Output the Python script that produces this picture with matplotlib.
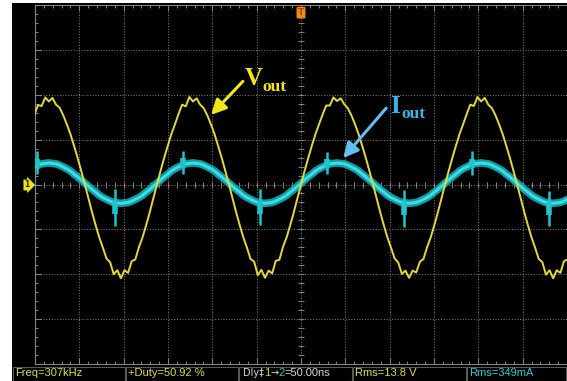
import numpy as np
import matplotlib
matplotlib.use("Agg")
import matplotlib.pyplot as plt
from matplotlib.patches import Rectangle

# ---------------- data (read from the scope screen) ----------------
# sample step = 1/40 of the 307 kHz period (~0.08125 us); 1 us/div, trigger at t = 0
sample_step_us = 0.08125
sample_index_start = -74

vout_V = [
    # k = -74 .. -41
    15.6, 17.7, 17.5, 19.4, 18.5, 19.3, 17.8, 17.1, 15.4, 13.4, 11.2, 8.6, 5.9, 3.0,
    0.0, -3.1, -6.2, -9.1, -11.8, -14.1, -16.5, -17.3, -20.0, -19.1, -20.9, -19.1,
    -19.7, -17.1, -16.7, -14.0, -11.8, -9.1, -6.2, -3.1,
    # k = -40 .. -1
    0.0, 3.0, 5.9, 8.6, 11.2, 13.4, 15.7, 17.8, 17.4, 19.5, 18.5, 19.2, 17.8, 17.0,
    15.4, 13.4, 11.2, 8.6, 5.9, 3.0, 0.0, -3.1, -6.2, -9.1, -11.8, -14.1, -16.6,
    -17.2, -20.2, -19.0, -20.8, -19.2, -19.8, -17.0, -16.8, -13.9, -11.8, -9.1,
    -6.2, -3.1,
    # k = 0 .. 39
    0.0, 3.0, 5.9, 8.6, 11.2, 13.4, 15.6, 17.6, 17.6, 19.4, 18.6, 19.2, 17.9, 17.0,
    15.4, 13.4, 11.2, 8.6, 5.9, 3.0, 0.0, -3.1, -6.2, -9.1, -11.8, -14.1, -16.5,
    -17.4, -19.9, -19.2, -20.8, -19.2, -19.6, -17.2, -16.6, -14.0, -11.8, -9.1,
    -6.2, -3.1,
    # k = 40 .. 74
    0.0, 3.0, 5.9, 8.6, 11.2, 13.4, 15.7, 17.8, 17.5, 19.5, 18.5, 19.3, 17.8, 17.0,
    15.4, 13.4, 11.2, 8.6, 5.9, 3.0, 0.0, -3.1, -6.2, -9.1, -11.8, -14.1, -16.6,
    -17.3, -20.1, -19.1, -20.9, -19.1, -19.7, -17.1, -16.7,
]

iout_A = [
    # k = -74 .. -41
    0.39, 0.43, 0.46, 0.47, 0.48, 0.47, 0.46, 0.43, 0.39, 0.35, 0.30, 0.23, 0.17,
    0.10, 0.03, -0.04, -0.11, -0.17, -0.24, -0.29, -0.33, -0.37, -0.40, -0.41,
    -0.42, -0.41, -0.40, -0.37, -0.33, -0.29, -0.24, -0.17, -0.11, -0.04,
    # k = -40 .. -1
    0.03, 0.10, 0.17, 0.23, 0.30, 0.35, 0.39, 0.43, 0.46, 0.47, 0.48, 0.47, 0.46,
    0.43, 0.39, 0.35, 0.30, 0.23, 0.17, 0.10, 0.03, -0.04, -0.11, -0.17, -0.24,
    -0.29, -0.33, -0.37, -0.40, -0.41, -0.42, -0.41, -0.40, -0.37, -0.33, -0.29,
    -0.24, -0.17, -0.11, -0.04,
    # k = 0 .. 39
    0.03, 0.10, 0.17, 0.23, 0.30, 0.35, 0.39, 0.43, 0.46, 0.47, 0.48, 0.47, 0.46,
    0.43, 0.39, 0.35, 0.30, 0.23, 0.17, 0.10, 0.03, -0.04, -0.11, -0.17, -0.24,
    -0.29, -0.33, -0.37, -0.40, -0.41, -0.42, -0.41, -0.40, -0.37, -0.33, -0.29,
    -0.24, -0.17, -0.11, -0.04,
    # k = 40 .. 74
    0.03, 0.10, 0.17, 0.23, 0.30, 0.35, 0.39, 0.43, 0.46, 0.47, 0.48, 0.47, 0.46,
    0.43, 0.39, 0.35, 0.30, 0.23, 0.17, 0.10, 0.03, -0.04, -0.11, -0.17, -0.24,
    -0.29, -0.33, -0.37, -0.40, -0.41, -0.42, -0.41, -0.40, -0.37, -0.33,
]

# switching spikes on the current trace
spike_t_us = [-5.96, -4.20, -2.66, -0.92, 0.59, 2.32, 3.86, 5.59]
spike_top_A = [0.74, -0.10, 0.75, -0.10, 0.73, -0.12, 0.74, -0.15]
spike_bottom_A = [0.23, -0.93, 0.23, -0.91, 0.23, -0.95, 0.22, -0.93]

status_labels = ["Freq=307kHz", "+Duty=50.92 %", None, "Rms=13.8 V", "Rms=349mA"]
dly_parts = ["Dly\u2021", "1", "\u2192", "2", "=50.00ns"]

# ---------------- figure ----------------
W, H = 567, 381
fig = plt.figure(figsize=(W / 100, H / 100), dpi=100, facecolor="white")

# black screen area
bg = Rectangle((12 / W, 0), 1 - 12 / W, 1 - 3 / H, transform=fig.transFigure,
               facecolor="black", edgecolor="none", zorder=-10)
fig.add_artist(bg)

ax = fig.add_axes([35 / W, (H - 364) / H, 1 - 35 / W, (364 - 5) / H], zorder=1)
ax.set_facecolor("black")
ax.set_xlim(-6, 6)
ax.set_ylim(-40, 40)
ax2 = ax.twinx()
ax2.set_ylim(-4, 4)
ax2.axis("off")

grid_col = "#858585"
for s in ["left", "top", "bottom"]:
    ax.spines[s].set_color(grid_col)
    ax.spines[s].set_linewidth(0.8)
ax.spines["right"].set_visible(False)

ax.set_xticks(np.arange(-6, 7, 1))
ax.set_yticks(np.arange(-40, 41, 10))
ax.set_xticks(np.arange(-6, 6.01, 0.2), minor=True)
ax.set_yticks(np.arange(-40, 40.01, 2), minor=True)
ax.tick_params(which="both", direction="in", color=grid_col, labelbottom=False,
               labelleft=False, top=True, right=False, width=0.7)
ax.tick_params(which="major", length=4)
ax.tick_params(which="minor", length=2.5)

for xv in np.arange(-5, 6.5, 1):
    ax.axvline(xv, color=grid_col, lw=0.7, ls=(0, (1, 1.8)), zorder=1)
for yv in np.arange(-30, 31, 10):
    ax.axhline(yv, color=grid_col, lw=0.7, ls=(0, (1, 1.8)), zorder=1)
# tick marks on centre cross
cx = np.arange(-6, 6.01, 0.2)
ax.plot(cx, np.zeros_like(cx), ls="none", marker="|", ms=5, color=grid_col, mew=0.7, zorder=1)
cy = np.arange(-40, 40.01, 2)
ax.plot(np.zeros_like(cy), cy, ls="none", marker="_", ms=5, color=grid_col, mew=0.7, zorder=1)

# traces
t = (np.arange(len(vout_V)) + sample_index_start) * sample_step_us
ax2.plot(t, iout_A, color="#15aab5", lw=5.5, alpha=0.9, solid_capstyle="round", zorder=3)
ax2.plot(t, iout_A, color="#3adfe4", lw=2.2, zorder=4)
ax2.vlines(spike_t_us, spike_bottom_A, spike_top_A, color="#20c4cc", lw=1.8, zorder=4)
mid_lo = [b + (tp - b) * 0.32 for b, tp in zip(spike_bottom_A, spike_top_A)]
mid_hi = [b + (tp - b) * 0.68 for b, tp in zip(spike_bottom_A, spike_top_A)]
ax2.vlines(spike_t_us, mid_lo, mid_hi, color="#20c4cc", lw=4.0, zorder=4)

ax2.plot(t, np.array(vout_V) / 10.0, color="#e2da3a", lw=1.4, zorder=5)

# annotations
serif = ["Liberation Serif", "DejaVu Serif"]
ycol = "#f2e61c"
bcol = "#3ab4e8"
ax2.text(-1.26, 2.22, "V", color=ycol, fontsize=18, fontweight="bold", family=serif,
         va="baseline", ha="left", zorder=6)
ax2.text(-0.86, 2.08, "out", color=ycol, fontsize=12.5, fontweight="bold", family=serif,
         va="baseline", ha="left", zorder=6)
ax2.annotate("", xy=(-2.03, 1.55), xytext=(-1.31, 2.30),
             arrowprops=dict(arrowstyle="-|>,head_length=0.9,head_width=0.45",
                             color=ycol, lw=2.2, shrinkA=0, shrinkB=0), zorder=6)
ax2.text(2.01, 1.59, "I", color=bcol, fontsize=18, fontweight="bold", family=serif,
         va="baseline", ha="left", zorder=6)
ax2.text(2.26, 1.48, "out", color=bcol, fontsize=12.5, fontweight="bold", family=serif,
         va="baseline", ha="left", zorder=6)
ax2.annotate("", xy=(0.95, 0.59), xytext=(1.92, 1.70),
             arrowprops=dict(arrowstyle="-|>,head_length=0.9,head_width=0.45",
                             color="#62bff0", lw=2.2, shrinkA=0, shrinkB=0), zorder=6)

# trigger marker and channel marker
ax2.text(0, 3.93, "T", color="#b04800", fontsize=6.5, fontweight="bold", ha="center",
         va="top", zorder=7, clip_on=False,
         bbox=dict(boxstyle="round,pad=0.15", fc="#f08a1c", ec="none"))
fig.text(27 / W, (H - 185) / H, "1", color="#303000", fontsize=5.5, fontweight="bold",
         ha="center", va="center", zorder=5,
         bbox=dict(boxstyle="rarrow,pad=0.12", fc="#e8e020", ec="none"))

# status bar
box_edges = [13, 126, 239, 353, 467, 567]
bar_top = H - 366
sfont = ["Liberation Sans Narrow", "Liberation Sans", "DejaVu Sans"]
status_colors = ["#e0dc50", "#e0dc50", None, "#e0dc50", "#3cc8c8"]
part_cols = ["#d8d8d8", "#c8d840", "#d8d8d8", "#30c8c8", "#d8d8d8"]
part_fonts = [["DejaVu Sans"], sfont, ["DejaVu Sans"], sfont, sfont]
part_sizes = [7, 8, 7, 8, 8]
for i in range(5):
    x0, x1 = box_edges[i], box_edges[i + 1]
    fig.add_artist(Rectangle((x0 / W, 0.5 / H), (x1 - x0 - 1) / W, (bar_top - 1) / H,
                             transform=fig.transFigure, facecolor="black",
                             edgecolor="#5a5a5a", lw=0.8, zorder=2))
    if status_labels[i] is not None:
        fig.text((x0 + 2) / W, 7.5 / H, status_labels[i], color=status_colors[i],
                 fontsize=8, family=sfont, ha="left", va="center", zorder=3)
    else:
        prev = fig.text((x0 + 4) / W, 7.5 / H, dly_parts[0], color=part_cols[0],
                        fontsize=part_sizes[0], family=part_fonts[0], ha="left",
                        va="center", zorder=3)
        for p, c, f, s in zip(dly_parts[1:], part_cols[1:], part_fonts[1:], part_sizes[1:]):
            a = matplotlib.text.Annotation(p, xy=(1, 0.5), xycoords=prev, va="center",
                                           ha="left", color=c, fontsize=s,
                                           family=f, annotation_clip=False)
            a.set_zorder(3)
            fig.add_artist(a)
            prev = a

fig.savefig("out.png", dpi=100, facecolor=fig.get_facecolor())
